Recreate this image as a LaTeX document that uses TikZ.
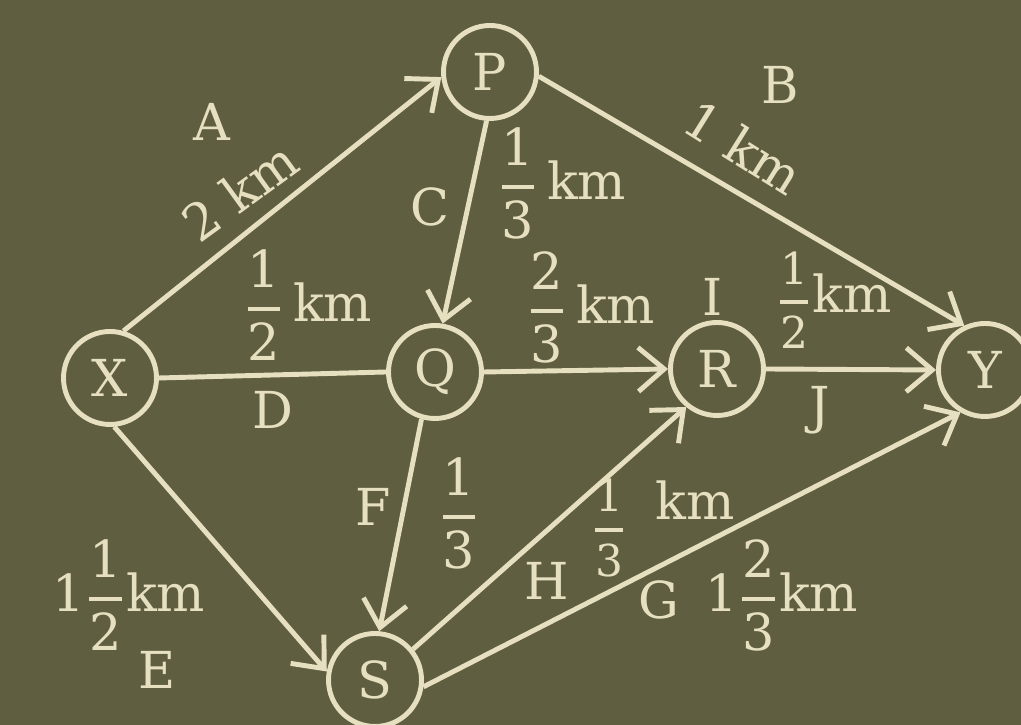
\documentclass[tikz,border=0pt]{standalone}
\usepackage{amsmath}
\usepackage{fontspec}
\setmainfont{DejaVu Serif}
\usepackage{tikz}
\usetikzlibrary{arrows.meta, automata, positioning}
\definecolor{board}{RGB}{96,94,64}
\definecolor{chalk}{RGB}{230,224,192}
% fraction in the text font, with a heavier bar
\newcommand{\fr}[2]{\genfrac{}{}{1.1pt}{0}{\text{#1}}{\text{#2}}}

\begin{document}
\begin{tikzpicture}[
            line width=1.4pt,
            font=\fontsize{14.5}{17}\selectfont, % big print, like the board
            every state/.style={
                shape=circle,
                draw=chalk,
                text=chalk,
                minimum size=0.93cm,
                inner sep=0pt,
                line width=1.4pt
            },
            every edge/.style={
                draw=chalk,
                line width=1.4pt,
                -{Straight Barb[length=2.6mm, width=4.4mm]} % open v heads
            },
            lbl/.style={text=chalk, inner sep=0pt},
            smallfrac/.style={font=\fontsize{12.5}{15}\selectfont}
        ]
        \useasboundingbox[fill=board] (0,0) rectangle (10.21,7.25);

        \node[state] (x) at (1.10,3.47) {X};
        \node[state] (p) at (4.90,6.53) {P};
        \node[state] (q) at (4.35,3.53) {Q};
        \node[state] (r) at (7.17,3.56) {R};
        \node[state] (y) at (9.85,3.55) {Y};
        \node[state] (s) at (3.75,0.45) {S};

        \path
            (x.74) edge (p.186)
            (x.east) edge[-] (q.west)
            (x.275) edge (s.170)
            (p.266) edge (q.81)
            (p.355) edge (y.115)
            (q.east) edge (r.west)
            (q.254) edge (s.85)
            (r.east) edge (y.west)
            (s.39) edge (r.231)
            (s.352) edge (y.240);

        % road names and lengths
        \node[lbl] (la) at (2.12,6.03) {A};
        \node[lbl, rotate=36] (da) at (2.40,5.34) {2 km};
        \node[lbl] (lb) at (7.80,6.40) {B};
        \node[lbl, rotate=-32] (db) at (7.44,5.78) {1 km};
        \node[lbl] (lc) at (4.30,5.18) {C};
        \node[lbl] (dc) at (5.62,5.42) {$\fr{1}{3}$\,km};
        \node[lbl] (dd) at (3.08,4.20) {$\fr{1}{2}$\,km};
        \node[lbl] (ld) at (2.73,3.15) {D};
        \node[lbl] (di) at (5.91,4.18) {$\fr{2}{3}$\,km};
        \node[lbl] (li) at (7.13,4.28) {I};
        \node[lbl] (dj) at (8.34,4.25) {{\fontsize{12.5}{15}\selectfont$\fr{1}{2}$}km};
        \node[lbl] (lj) at (8.20,3.15) {J};
        \node[lbl] (lf) at (3.73,2.18) {F};
        \node[lbl] (df) at (4.59,2.12) {$\fr{1}{3}$};
        \node[lbl] (de) at (1.29,1.30) {1$\fr{1}{2}$km};
        \node[lbl] (le) at (1.57,0.55) {E};
        \node[lbl] (lh) at (5.47,1.44) {H};
        \node[lbl, smallfrac] (dh) at (6.09,1.97) {$\fr{1}{3}$};
        \node[lbl] (kh) at (6.95,2.25) {km};
        \node[lbl] (lg) at (6.59,1.25) {G};
        \node[lbl] (dg) at (7.82,1.30) {1$\fr{2}{3}$km};
\end{tikzpicture}
\end{document}
